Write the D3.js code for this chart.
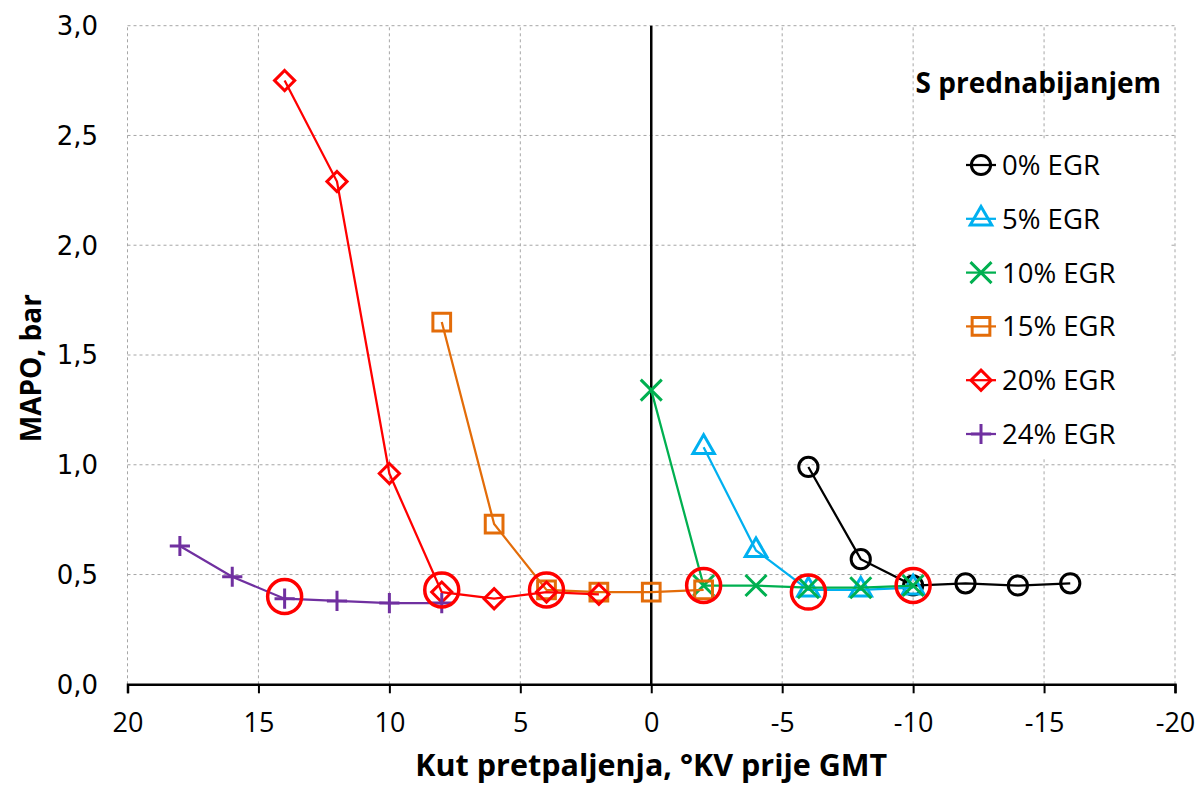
<!DOCTYPE html>
<html>
<head>
<meta charset="utf-8">
<script src="https://cdn.jsdelivr.net/npm/d3@7"></script>
<style>
  body { margin: 0; background: #fff; }
  svg { display: block; }
</style>
</head>
<body>
<div id="chart"></div>
<script>
// ignition advance, degrees before TDC (x) and MAPO in bar (y)
const seriesNames = ["0% EGR", "5% EGR", "10% EGR", "15% EGR", "20% EGR", "24% EGR"];
const seriesColors = ["#000000", "#00B0F0", "#00B050", "#E36C09", "#FF0000", "#7030A0"];

const egr0x = [-6, -8, -10, -12, -14, -16];
const egr0y = [0.99, 0.57, 0.45, 0.46, 0.45, 0.46];

const egr5x = [-2, -4, -6, -8, -10];
const egr5y = [1.08, 0.61, 0.43, 0.43, 0.44];

const egr10x = [0, -2, -4, -6, -8, -10];
const egr10y = [1.34, 0.45, 0.45, 0.44, 0.44, 0.45];

const egr15x = [8, 6, 4, 2, 0, -2];
const egr15y = [1.65, 0.73, 0.43, 0.42, 0.42, 0.43];

const egr20x = [14, 12, 10, 8, 6, 4, 2];
const egr20y = [2.75, 2.29, 0.96, 0.42, 0.39, 0.42, 0.41];

const egr24x = [18, 16, 14, 12, 10, 8];
const egr24y = [0.63, 0.49, 0.39, 0.38, 0.37, 0.37];

// red rings marking the chosen point of each curve
const bestX = [14, 8, 4, -2, -6, -10];
const bestY = [0.40, 0.43, 0.43, 0.45, 0.42, 0.45];

const xTicks = [20, 15, 10, 5, 0, -5, -10, -15, -20];
const yTicks = [0, 0.5, 1.0, 1.5, 2.0, 2.5, 3.0];

const width = 1200, height = 785;
const margin = {top: 25.7, right: 25, bottom: 100.7, left: 127.5};

const svg = d3.select("#chart").append("svg")
    .attr("width", width)
    .attr("height", height);

const x = d3.scaleLinear().domain([20, -20]).range([margin.left, width - margin.right]);
const y = d3.scaleLinear().domain([0, 3]).range([height - margin.bottom, margin.top]);

// grid
const grid = svg.append("g")
    .attr("stroke", "#A6A6A6")
    .attr("stroke-width", 1)
    .attr("stroke-dasharray", "3,3");

grid.selectAll(".vgrid")
    .data(xTicks.filter(d => d !== 0))
    .enter().append("line")
    .attr("class", "vgrid")
    .attr("x1", d => x(d)).attr("x2", d => x(d))
    .attr("y1", y(0)).attr("y2", y(3));

grid.selectAll(".hgrid")
    .data(yTicks.filter(d => d > 0))
    .enter().append("line")
    .attr("class", "hgrid")
    .attr("x1", x(20)).attr("x2", x(-20))
    .attr("y1", d => y(d)).attr("y2", d => y(d));

// x axis along y = 0
const xAxis = svg.append("g")
    .attr("transform", "translate(0," + y(0) + ")")
    .call(d3.axisBottom(x).tickValues(xTicks).tickSize(9));
xAxis.select(".domain").attr("stroke", "#000").attr("stroke-width", 2.5);
xAxis.selectAll(".tick line").attr("stroke", "#000").attr("stroke-width", 2);
xAxis.selectAll(".tick text")
    .attr("y", 38)
    .attr("dy", "0.35em")
    .style("font-family", "'Open Sans', sans-serif")
    .style("font-size", "27px")
    .style("fill", "#000")
    .text(d => String(d));

// vertical axis line at x = 0
svg.append("line")
    .attr("x1", x(0)).attr("x2", x(0))
    .attr("y1", y(0)).attr("y2", y(3))
    .attr("stroke", "#000")
    .attr("stroke-width", 2.5);

// y tick labels sit at the left edge of the plot
svg.selectAll(".ylab")
    .data(yTicks)
    .enter().append("text")
    .attr("class", "ylab")
    .attr("x", 98)
    .attr("y", d => y(d))
    .attr("dy", "0.36em")
    .attr("text-anchor", "end")
    .style("font-family", "'DejaVu Sans', Verdana, sans-serif")
    .style("font-size", "26px")
    .text(d => d3.format(".1f")(d).replace(".", ","));

// axis titles
svg.append("text")
    .attr("x", x(0))
    .attr("y", 776)
    .attr("text-anchor", "middle")
    .style("font-family", "'Open Sans', sans-serif")
    .style("font-weight", "bold")
    .style("font-size", "30.5px")
    .text("Kut pretpaljenja, °KV prije GMT");

svg.append("text")
    .attr("transform", "translate(41," + y(1.44) + ") rotate(-90)")
    .attr("text-anchor", "middle")
    .style("font-family", "'Open Sans', sans-serif")
    .style("font-weight", "bold")
    .style("font-size", "28px")
    .text("MAPO, bar");

// series
const series = [
    {name: seriesNames[0], color: seriesColors[0], xs: egr0x, ys: egr0y, symbol: d3.symbolCircle, size: 290},
    {name: seriesNames[1], color: seriesColors[1], xs: egr5x, ys: egr5y, symbol: d3.symbolTriangle2, size: 330},
    {name: seriesNames[2], color: seriesColors[2], xs: egr10x, ys: egr10y, symbol: d3.symbolX, size: 290},
    {name: seriesNames[3], color: seriesColors[3], xs: egr15x, ys: egr15y, symbol: d3.symbolSquare2, size: 400},
    {name: seriesNames[4], color: seriesColors[4], xs: egr20x, ys: egr20y, symbol: d3.symbolDiamond2, size: 260},
    {name: seriesNames[5], color: seriesColors[5], xs: egr24x, ys: egr24y, symbol: d3.symbolPlus, size: 135}
];
series.forEach(s => { s.points = s.xs.map((v, i) => [v, s.ys[i]]); });

const line = d3.line().x(d => x(d[0])).y(d => y(d[1]));

const plot = svg.append("g");
series.forEach(s => {
    const g = plot.append("g");
    g.append("path")
        .datum(s.points)
        .attr("d", line)
        .attr("fill", "none")
        .attr("stroke", s.color)
        .attr("stroke-width", 2.25);
    g.selectAll(".mark")
        .data(s.points)
        .enter().append("path")
        .attr("class", "mark")
        .attr("transform", d => "translate(" + x(d[0]) + "," + y(d[1]) + ")")
        .attr("d", d3.symbol().type(s.symbol).size(s.size))
        .attr("fill", "none")
        .attr("stroke", s.color)
        .attr("stroke-width", 3);
});

// highlight rings
svg.selectAll(".best")
    .data(bestX.map((v, i) => [v, bestY[i]]))
    .enter().append("circle")
    .attr("class", "best")
    .attr("cx", d => x(d[0]))
    .attr("cy", d => y(d[1]))
    .attr("r", 17)
    .attr("fill", "none")
    .attr("stroke", "#FF0000")
    .attr("stroke-width", 3.5);

// legend
svg.append("rect")
    .attr("x", 916).attr("y", 140)
    .attr("width", 254).attr("height", 318)
    .attr("fill", "#fff");

svg.append("text")
    .attr("x", 1161)
    .attr("y", 83)
    .attr("dy", "0.35em")
    .attr("text-anchor", "end")
    .style("font-family", "'Open Sans', sans-serif")
    .style("font-weight", "bold")
    .style("font-size", "28px")
    .text("S prednabijanjem");

const legend = svg.selectAll(".legend")
    .data(series)
    .enter().append("g")
    .attr("class", "legend")
    .attr("transform", (d, i) => "translate(981," + (165 + i * 53.8) + ")");

legend.append("line")
    .attr("x1", -15).attr("x2", 15)
    .attr("stroke", d => d.color)
    .attr("stroke-width", 2.25);
legend.append("path")
    .attr("d", d => d3.symbol().type(d.symbol).size(d.size)())
    .attr("fill", "none")
    .attr("stroke", d => d.color)
    .attr("stroke-width", 3);
legend.append("text")
    .attr("x", 21)
    .attr("dy", "0.36em")
    .style("font-family", "'Open Sans', sans-serif")
    .style("font-size", "27.5px")
    .text(d => d.name);
</script>
</body>
</html>
